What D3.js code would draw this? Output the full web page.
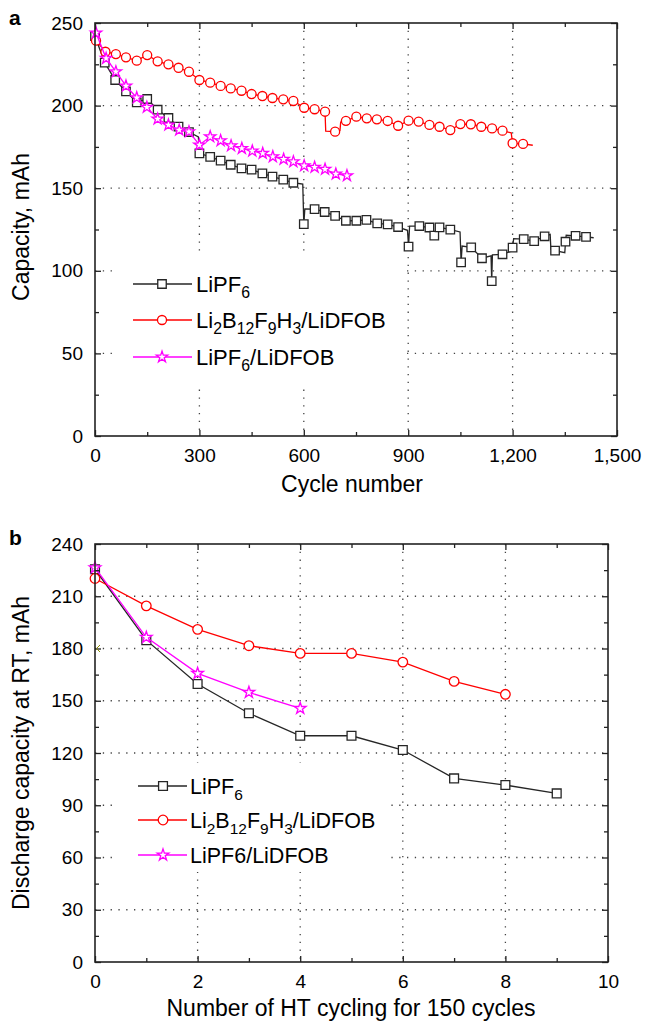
<!DOCTYPE html>
<html><head><meta charset="utf-8">
<script src="https://cdn.jsdelivr.net/npm/d3@7"></script>
<style>
body{margin:0;background:#fff}
svg{display:block}
text{font-family:"Liberation Sans",Arial,Helvetica,sans-serif;fill:#000}
</style>
</head><body><svg id="c" width="646" height="1023"></svg>
<script>
// ---------- Panel a data ----------
const aTickX = [0, 300, 600, 900, 1200, 1500];
const aTickXLabels = ["0", "300", "600", "900", "1,200", "1,500"];
const aTickY = [0, 50, 100, 150, 200, 250];

// LiPF6 (markers)
const lipf6Cycle = [0,28,58,89,120,150,180,211,240,270,300,331,361,390,421,450,481,510,541,570,600,631,660,690,721,751,780,811,841,871,901,932,961,975,990,1021,1052,1081,1112,1140,1171,1200,1232,1262,1292,1322,1352,1381,1411];
const lipf6Cap = [242,226,215.5,208.6,202,204,197.5,192.5,187.3,184,171.1,169,166.7,164.2,162,161.2,159,157,155.2,153.3,128.3,137.3,135.6,133.3,130.3,130.3,130.8,128.7,128.1,126.5,114.6,127.1,126.2,121.3,126.3,124.9,105.1,114.2,107.6,93.8,110,114,119.2,118,120.9,112.2,117.6,121.2,120.5];
// LiPF6 line-only vertices
const lipf6LineCycle = [297,597,603,898,904,1049,1055,1138,1142,1198,1203,1308,1310,1350,1354,1433];
const lipf6LineCap = [181,152.5,137.5,124.5,127,123.5,115,109,109.6,112,119.5,122,113,111,121.5,120];

// Li2B12F9H3/LiDFOB (markers)
const libCycle = [3,30,60,89,120,150,180,211,240,270,300,331,361,390,421,450,481,510,541,570,601,631,661,690,721,751,781,810,841,871,901,930,961,990,1021,1050,1080,1110,1141,1171,1200,1230];
const libCap = [239.3,232.6,231.2,229.2,227.2,230.6,226.8,225,222.9,220.5,215.5,213.9,211.9,210.4,209,207,205.8,204.6,203.8,202.8,198.7,197.8,196.3,184.2,190.8,193.3,192.3,191.7,190.7,187.8,190.9,190.3,188.3,187.2,185.2,188.8,188.7,187.2,186.2,184.8,177.2,176.8];
const libLineCycle = [0,663,704,706,1196,1258];
const libLineCap = [240,184.6,185,190,183.5,176];

// LiPF6/LiDFOB (markers)
const mixCycle = [3,32,60,89,120,149,180,211,242,270,300,331,361,391,422,452,482,511,542,570,601,631,661,692,724];
const mixCap = [244,228.6,220.5,211.9,204.8,199,191.9,188.3,185.2,184.2,176.2,181.2,178.8,175.7,174.1,172.5,171.1,169.1,167.5,166,163.6,162.7,161.5,158.6,157.6];
const mixLineCycle = [733];
const mixLineCap = [157.6];

// ---------- Panel b data ----------
const bTickX = [0, 2, 4, 6, 8, 10];
const bTickY = [0, 30, 60, 90, 120, 150, 180, 210, 240];
const htCount = [0,1,2,3,4,5,6,7,8,9];
const bLipf6 = [225.5,184.8,159.6,142.8,129.9,129.9,121.7,105.4,101.6,96.8];
const bLib = [220.2,204.5,191,181.6,177.2,177.2,172.2,161.1,153.7];
const bMix = [226.4,186.4,165.7,154.8,145.6];

const legendA = [[["LiPF",0],["6",1]], [["Li",0],["2",1],["B",0],["12",1],["F",0],["9",1],["H",0],["3",1],["/LiDFOB",0]], [["LiPF",0],["6",1],["/LiDFOB",0]]];
const legendB = [[["LiPF",0],["6",1]], [["Li",0],["2",1],["B",0],["12",1],["F",0],["9",1],["H",0],["3",1],["/LiDFOB",0]], [["LiPF6/LiDFOB",0]]];
const colors = ["#262626", "#ff0000", "#ff00ff"];
const shapes = ["square", "circle", "star"];

const TICK_FS = 19, TITLE_FS = 23;

const svg = d3.select("#c");

function symbolPath(shape, big) {
  if (shape === "square") return d3.symbol().type(d3.symbolSquare).size(big ? 78 : 72)();
  if (shape === "circle") return d3.symbol().type(d3.symbolCircle).size(big ? 72 : 64)();
  return d3.symbol().type(d3.symbolStar).size(big ? 42 : 40)();
}

function richText(g, x, y, parts, fs) {
  const t = g.append("text").attr("x", x).attr("y", y).attr("font-size", fs);
  let shifted = false;
  parts.forEach(([s, sub]) => {
    const ts = t.append("tspan").text(s);
    if (sub && !shifted) { ts.attr("dy", fs * 0.28).attr("font-size", fs * 0.72); shifted = true; }
    else if (sub) { ts.attr("font-size", fs * 0.72); }
    else if (!sub && shifted) { ts.attr("dy", -fs * 0.28); shifted = false; }
  });
  return t;
}

function panel(opt) {
  const g = svg.append("g");
  const x = d3.scaleLinear().domain(opt.xDom).range([opt.left, opt.right]);
  const y = d3.scaleLinear().domain(opt.yDom).range([opt.bottom, opt.top]);

  const grid = g.append("g").attr("stroke", "#444").attr("stroke-width", 1.3).attr("stroke-dasharray", "1.3,6.5");
  opt.gridX.forEach(v => grid.append("line").attr("x1", x(v)).attr("x2", x(v)).attr("y1", opt.top).attr("y2", opt.bottom));
  opt.gridY.forEach(v => grid.append("line").attr("x1", opt.left).attr("x2", opt.right).attr("y1", y(v)).attr("y2", y(v)));

  const lb = opt.legendBox;
  g.append("rect").attr("x", lb[0]).attr("y", lb[1]).attr("width", lb[2]).attr("height", lb[3]).attr("fill", "#fff");

  opt.series.forEach((s, i) => {
    const pts = s.line.slice().sort((a, b) => a[0] - b[0]);
    g.append("path").datum(pts)
      .attr("d", d3.line().x(d => x(d[0])).y(d => y(d[1])))
      .attr("fill", "none").attr("stroke", colors[i]).attr("stroke-width", 1.3);
    g.append("g").selectAll("path").data(s.marks).join("path")
      .attr("transform", d => `translate(${x(d[0])},${y(d[1])})`)
      .attr("d", symbolPath(shapes[i], opt.big))
      .attr("fill", "#fff").attr("stroke", colors[i]).attr("stroke-width", 1.3);
  });

  const axB = d3.axisBottom(x).tickValues(opt.xTicks).tickSize(-6).tickSizeOuter(0).tickPadding(13).tickFormat((d, i) => opt.xLabels[i]);
  const axBm = d3.axisBottom(x).tickValues(opt.xMinor).tickSize(-4).tickSizeOuter(0).tickFormat("");
  const axT = d3.axisTop(x).tickValues(opt.xTicks).tickSize(-6).tickSizeOuter(0).tickFormat("");
  const axTm = d3.axisTop(x).tickValues(opt.xMinor).tickSize(-4).tickSizeOuter(0).tickFormat("");
  const axL = d3.axisLeft(y).tickValues(opt.yTicks).tickSize(-6).tickSizeOuter(0).tickPadding(12).tickFormat(d3.format("d"));
  const axLm = d3.axisLeft(y).tickValues(opt.yMinor).tickSize(-4).tickSizeOuter(0).tickFormat("");
  const axR = d3.axisRight(y).tickValues(opt.yTicks).tickSize(-6).tickSizeOuter(0).tickFormat("");
  const axRm = d3.axisRight(y).tickValues(opt.yMinor).tickSize(-4).tickSizeOuter(0).tickFormat("");
  const put = (ax, tx, ty) => {
    const a = g.append("g").attr("transform", `translate(${tx},${ty})`).call(ax);
    a.select(".domain").remove();
    a.selectAll("line").attr("stroke", "#222").attr("stroke-width", 1.3);
    a.selectAll("text").attr("font-size", TICK_FS).attr("fill", "#000").attr("font-family", '"Liberation Sans",Arial,sans-serif');
    return a;
  };
  put(axB, 0, opt.bottom); put(axBm, 0, opt.bottom);
  put(axT, 0, opt.top); put(axTm, 0, opt.top);
  put(axL, opt.left, 0); put(axLm, opt.left, 0);
  put(axR, opt.right, 0); put(axRm, opt.right, 0);

  g.append("rect").attr("x", opt.left).attr("y", opt.top).attr("width", opt.right - opt.left).attr("height", opt.bottom - opt.top)
    .attr("fill", "none").attr("stroke", "#222").attr("stroke-width", 1.6);

  opt.legendRows.forEach((ry, i) => {
    g.append("line").attr("x1", opt.legendLine[0]).attr("x2", opt.legendLine[1]).attr("y1", ry).attr("y2", ry)
      .attr("stroke", colors[i]).attr("stroke-width", 1.3);
    g.append("path").attr("transform", `translate(${opt.legendMark},${ry})`).attr("d", symbolPath(shapes[i], opt.big))
      .attr("fill", "#fff").attr("stroke", colors[i]).attr("stroke-width", 1.3);
    richText(g, opt.legendText, ry + opt.legendDy, opt.legendParts[i], opt.legendFs);
  });

  g.append("text").attr("x", opt.xTitleX).attr("y", opt.xTitleY).attr("text-anchor", "middle")
    .attr("font-size", TITLE_FS).text(opt.xTitle);
  g.append("text").attr("transform", `translate(${opt.yTitleX},${opt.yTitleY}) rotate(-90)`)
    .attr("text-anchor", "middle").attr("font-size", TITLE_FS).text(opt.yTitle);
  g.append("text").attr("x", 9).attr("y", opt.labelY).attr("font-size", 21).attr("font-weight", "bold").text(opt.label);
  return {g, x, y};
}

const zipPts = (a, b) => a.map((v, i) => [v, b[i]]);

panel({
  xDom: [0, 1500], yDom: [0, 250], left: 95, right: 617, top: 23, bottom: 436,
  xTicks: aTickX, xLabels: aTickXLabels, xMinor: [150, 450, 750, 1050, 1350],
  yTicks: aTickY, yMinor: [25, 75, 125, 175, 225],
  gridX: [300, 600, 900, 1200], gridY: [50, 100, 150, 200],
  legendBox: [113, 253, 290, 134],
  series: [
    {marks: zipPts(lipf6Cycle, lipf6Cap), line: zipPts(lipf6Cycle, lipf6Cap).concat(zipPts(lipf6LineCycle, lipf6LineCap))},
    {marks: zipPts(libCycle, libCap), line: zipPts(libCycle, libCap).concat(zipPts(libLineCycle, libLineCap))},
    {marks: zipPts(mixCycle, mixCap), line: zipPts(mixCycle, mixCap).concat(zipPts(mixLineCycle, mixLineCap))}
  ],
  big: false,
  legendRows: [284, 320, 357], legendLine: [133, 192], legendMark: 162, legendText: 196, legendDy: 8, legendFs: 22,
  legendParts: legendA,
  xTitle: "Cycle number", xTitleX: 352, xTitleY: 492, yTitle: "Capacity, mAh", yTitleX: 29, yTitleY: 227,
  label: "a", labelY: 25
});

const pb = panel({
  xDom: [0, 10], yDom: [0, 240], left: 95, right: 608, top: 544, bottom: 962,
  xTicks: bTickX, xLabels: bTickX.map(String), xMinor: [1, 3, 5, 7, 9],
  yTicks: bTickY, yMinor: [15, 45, 75, 105, 135, 165, 195, 225],
  gridX: [2, 4, 6, 8], gridY: [30, 60, 90, 120, 150, 180, 210],
  legendBox: [117, 763, 273, 109],
  series: [
    {marks: zipPts(htCount, bLipf6), line: zipPts(htCount, bLipf6)},
    {marks: zipPts(htCount.slice(0, bLib.length), bLib), line: zipPts(htCount.slice(0, bLib.length), bLib)},
    {marks: zipPts(htCount.slice(0, bMix.length), bMix), line: zipPts(htCount.slice(0, bMix.length), bMix)}
  ],
  big: true,
  legendRows: [786, 820, 855], legendLine: [138, 187], legendMark: 163, legendText: 190, legendDy: 8, legendFs: 21.5,
  legendParts: legendB,
  xTitle: "Number of HT cycling for 150 cycles", xTitleX: 351, xTitleY: 1016, yTitle: "Discharge capacity at RT, mAh", yTitleX: 29, yTitleY: 753,
  label: "b", labelY: 545
});

pb.g.append("path")
  .attr("d", `M${pb.x(0) + 5},${pb.y(180) - 3.5}L${pb.x(0) + 1.5},${pb.y(180)}L${pb.x(0) + 5},${pb.y(180) + 3.5}`)
  .attr("fill", "none").attr("stroke", "#8a8a00").attr("stroke-width", 1);
</script>
</body></html>
